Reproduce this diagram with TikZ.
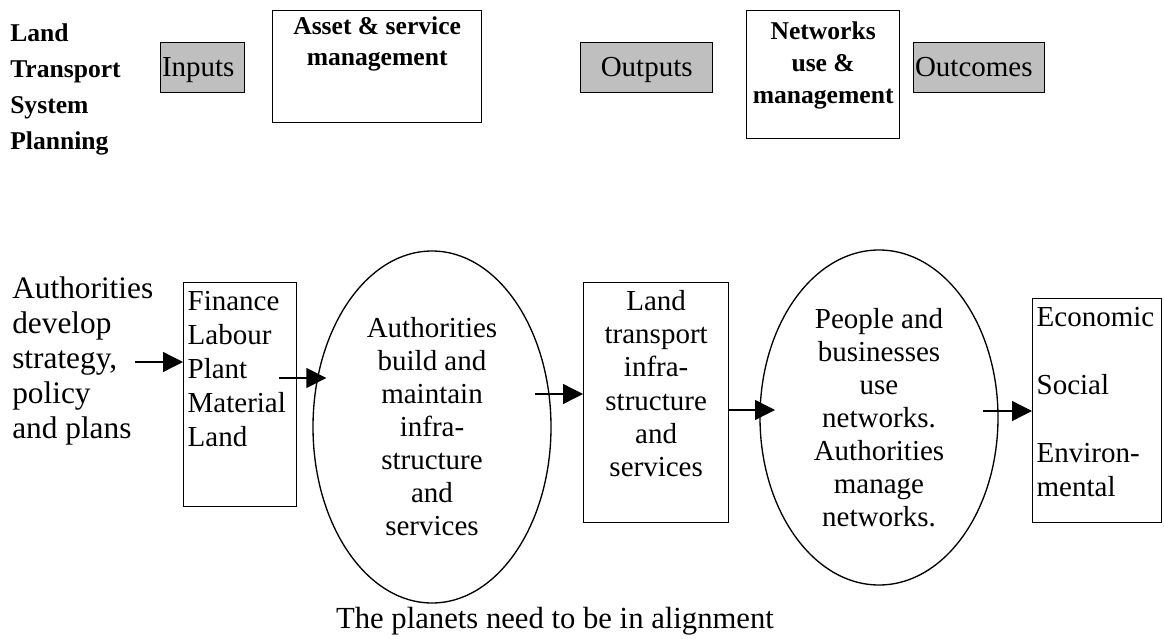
\documentclass[tikz,border=0pt]{standalone}
\usepackage{fontspec}
\setmainfont{Liberation Serif}
\usepackage{tikz}
\usetikzlibrary{shapes.geometric,arrows.meta,calc}
\newcommand{\bodyfont}{\fontsize{21.75}{25.5}\selectfont}
\newcommand{\headfont}{\bfseries\fontsize{19.2}{24}\selectfont}

\tikzset{
	box/.style={draw, line width=1pt, inner sep=3pt},
	tag/.style={box, fill=gray!50, minimum height=37.5pt, text height=16pt, text depth=3pt, font=\bodyfont},
	blob/.style={draw, line width=1pt, ellipse, inner sep=0pt, align=center, font=\fontsize{21.75}{24.75}\selectfont},
	flow/.style={line width=1pt, -{Triangle[length=15pt,width=15pt]}}
}

\begin{document}
\begin{tikzpicture}[x=0.75pt,y=-0.75pt]
	\useasboundingbox (0,0) rectangle (1164,639);
	% top row
	\node[anchor=north west, align=left, inner sep=0pt, font=\bfseries\fontsize{19.2}{27}\selectfont] (plan) at (10,23) {Land\\Transport\\System\\Planning};
	\node[tag, anchor=north west, text width=61pt, align=left, inner xsep=1pt] (inp) at (160,42) {Inputs};
	\node[box, anchor=north west, font=\headfont] (asset) at (272,10) {\parbox[t][78pt][t]{150.75pt}{\centering\rule{0pt}{14.5pt}Asset \& service\\management}};
	\node[tag, anchor=north west, minimum width=99pt] (outp) at (580,42) {Outputs};
	\node[box, anchor=north west, font=\headfont] (netw) at (746,10) {\parbox[t][90pt][t]{108.75pt}{\centering\rule{0pt}{18.5pt}Networks\\use \&\\management}};
	\node[tag, anchor=north west, text width=96.25pt, align=left, inner xsep=1pt] (outc) at (913,42) {Outcomes};
	% bottom row
	\node[anchor=north west, align=left, inner sep=0pt, font=\fontsize{23.5}{26.25}\selectfont] (auth) at (12,276) {Authorities\\develop\\strategy,\\policy\\and plans};
	\node[box, anchor=north west, font=\bodyfont] (fin) at (183,282) {\parbox[t][162pt][t]{78.75pt}{\strut Finance\\Labour\\Plant\\Material\\Land}};
	\node[blob, minimum width=178.5pt, minimum height=264pt] (ell1) at (432,427) {Authorities\\build and\\maintain\\infra-\\structure\\and\\services};
	\node[box, anchor=north west, font=\fontsize{21.75}{25}\selectfont] (land) at (583,282) {\parbox[t][174pt][t]{102.75pt}{\centering\strut Land\\transport\\infra-\\structure\\and\\services}};
	\node[blob, minimum width=178.5pt, minimum height=251.25pt] (ell2) at (879,417.5) {People and\\businesses\\use\\networks.\\Authorities\\manage\\networks.};
	\node[box, anchor=north west, font=\bodyfont] (econ) at (1032,298) {\parbox[t][162pt][t]{90.75pt}{\strut Economic\\[25.5pt]Social\\[25.5pt]Environ-\\mental}};
	\node[font=\fontsize{23}{26}\selectfont] (note) at (555,621) {The planets need to be in alignment};
	% arrows
	\coordinate (s1) at (135,362);
	\coordinate (s2) at (279,378);
	\coordinate (s3) at (535,394);
	\coordinate (s4) at (775,410);
	\coordinate (s5) at (983,411);
	\draw[flow] (s1) -- (fin.west |- s1);
	\draw[flow] (s2) -- ($(ell1.west |- s2)+(14,0)$);
	\draw[flow] (s3) -- (land.west |- s3);
	\draw[flow] (land.east |- s4) -- (s4);
	\draw[flow] (s5) -- (econ.west |- s5);
\end{tikzpicture}
\end{document}
